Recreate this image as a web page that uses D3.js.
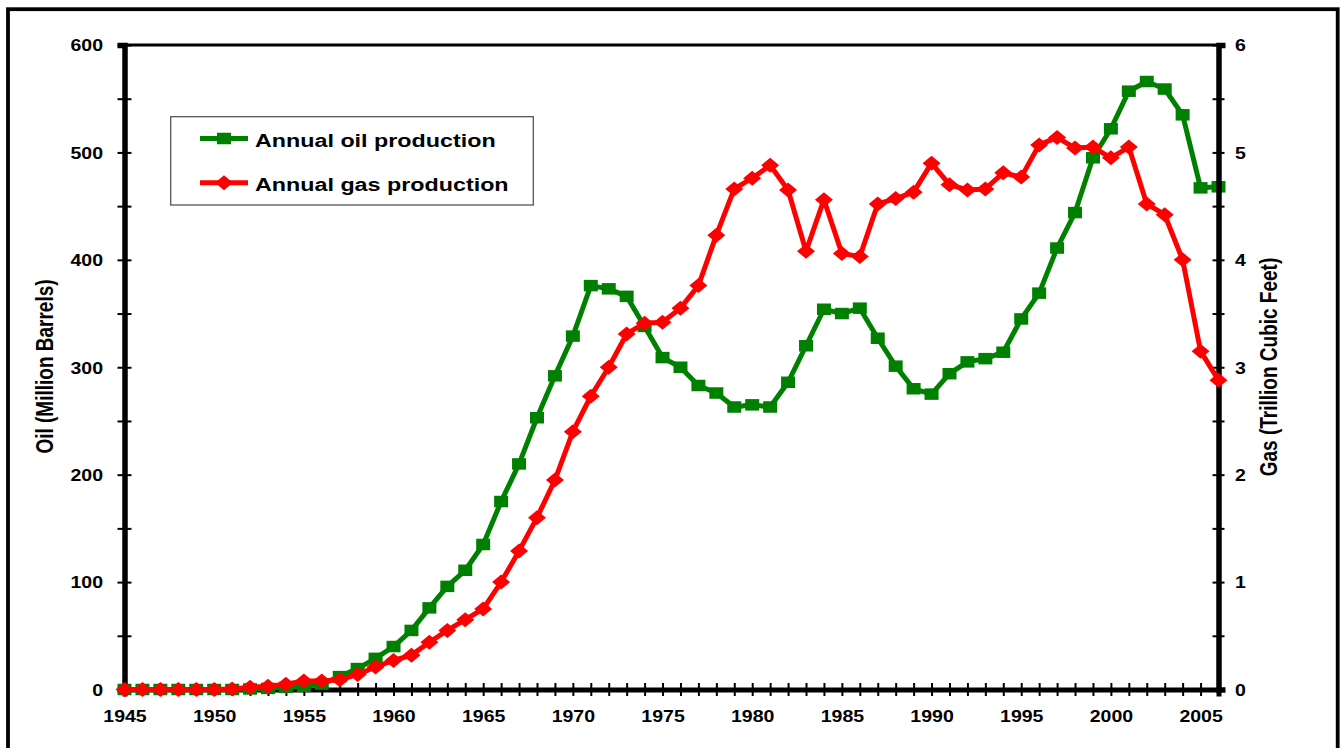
<!DOCTYPE html>
<html>
<head>
<meta charset="utf-8">
<script src="https://cdn.jsdelivr.net/npm/d3@7/dist/d3.min.js"></script>
<style>
  html, body { margin: 0; padding: 0; background: #fff; }
  svg { display: block; }
  text { font-family: "Liberation Sans", Arial, sans-serif; font-weight: bold; fill: #000; }
</style>
</head>
<body>
<svg id="chart" width="1340" height="748"></svg>
<script>
// Production years
const years = d3.range(1945, 2007);

// Annual oil production (million barrels)
const oil = [
  0, 0, 0, 0, 0, 0, 0, 0.5, 1, 2, 3, 5,
  12, 19.5, 29, 40, 55, 76, 96, 111, 135, 175,
  210, 253, 292, 329, 376, 373, 366, 338, 309, 300,
  283, 276, 263, 265, 263, 286, 320, 354, 350, 355,
  327, 301, 280, 275, 294, 305, 308, 314, 345, 369,
  411, 444, 495, 522, 557, 566, 559, 535, 467, 468
];

// Annual gas production (trillion cubic feet)
const gas = [
  0, 0, 0, 0, 0, 0, 0.005, 0.02, 0.03, 0.05, 0.08, 0.08,
  0.09, 0.14, 0.21, 0.27, 0.32, 0.44, 0.55, 0.65, 0.75, 1.0,
  1.29, 1.6, 1.95, 2.40, 2.73, 3.0, 3.31, 3.41, 3.42, 3.55,
  3.76, 4.23, 4.66, 4.76, 4.88, 4.65, 4.08, 4.56, 4.06, 4.03,
  4.52, 4.57, 4.63, 4.90, 4.70, 4.65, 4.66, 4.81, 4.77, 5.07,
  5.14, 5.04, 5.05, 4.95, 5.05, 4.52, 4.42, 4.00, 3.15, 2.88
];

// Tick values
const oilTicks = d3.range(0, 601, 50);
const gasTicks = d3.range(0, 6.01, 0.5);
const seriesNames = ["Annual oil production", "Annual gas production"];
const axisTitles = ["Oil (Million Barrels)", "Gas (Trillion Cubic Feet)"];

(function draw() {
  const SX = 1.22;            // horizontal widening of lettering
  const plotL = 124.5, plotR = 1218.5, plotT = 45, plotB = 689.5;
  const oilColor = "#008000", gasColor = "#ff0000";

  const svg = d3.select("#chart");

  // Outer frame
  svg.append("rect")
    .attr("x", 8).attr("y", 9.2).attr("width", 1329.7).attr("height", 800)
    .attr("fill", "#fff").attr("stroke", "#000").attr("stroke-width", 3.8);

  const x = d3.scaleLinear().domain([1945, 2006]).range([plotL, plotR]);
  const yOil = d3.scaleLinear().domain([0, 600]).range([plotB, plotT]);
  const yGas = d3.scaleLinear().domain([0, 6]).range([plotB, plotT]);

  // Plot area border (top edge shows)
  svg.append("line")
    .attr("x1", plotL).attr("x2", plotR).attr("y1", plotT).attr("y2", plotT)
    .attr("stroke", "#000").attr("stroke-width", 3);

  function crossTicks(g, vertical, half) {
    g.selectAll(".tick line")
      .attr("stroke", "#000").attr("stroke-width", 2)
      .each(function() {
        const l = d3.select(this);
        if (vertical) l.attr("x1", -half).attr("x2", half);
        else l.attr("y1", -half).attr("y2", half);
      });
  }

  // Left (oil) axis
  const gLeft = svg.append("g").attr("transform", `translate(${plotL},0)`)
    .call(d3.axisLeft(yOil).tickValues(oilTicks)
      .tickFormat(d => d % 100 === 0 ? d : "").tickSizeOuter(0).tickSize(7));
  gLeft.select(".domain").attr("stroke", "#000").attr("stroke-width", 5.5);
  crossTicks(gLeft, true, 7);
  gLeft.selectAll(".tick text")
    .attr("font-size", 16).attr("x", -21.5 / SX).attr("dy", "0.36em")
    .attr("transform", `scale(${SX},1)`).attr("fill", "#000");

  // Bottom (year) axis
  const gBottom = svg.append("g").attr("transform", `translate(0,${plotB})`)
    .call(d3.axisBottom(x).tickValues(years)
      .tickFormat(d => d % 5 === 0 ? d : "").tickSizeOuter(0).tickSize(7));
  gBottom.select(".domain").attr("stroke", "#000").attr("stroke-width", 5);
  crossTicks(gBottom, false, 6.5);
  gBottom.selectAll(".tick text")
    .attr("font-size", 16).attr("y", 33).attr("dy", 0)
    .attr("transform", `scale(${SX},1)`).attr("fill", "#000")
    .attr("x", 0);

  // Axis titles
  svg.append("text")
    .attr("transform", `translate(53.3,366.5) rotate(-90) scale(1,${SX})`)
    .attr("text-anchor", "middle").attr("font-size", 19)
    .text(axisTitles[0]);
  svg.append("text")
    .attr("transform", `translate(1276.5,367) rotate(-90) scale(1,${SX})`)
    .attr("text-anchor", "middle").attr("font-size", 19)
    .text(axisTitles[1]);

  const lineOil = d3.line().x((d, i) => x(years[i])).y(d => yOil(d));
  const lineGas = d3.line().x((d, i) => x(years[i])).y(d => yGas(d));

  // Oil series
  svg.append("path").datum(oil)
    .attr("d", lineOil).attr("fill", "none")
    .attr("stroke", oilColor).attr("stroke-width", 5).attr("stroke-linejoin", "round");
  const sqW = 14, sqH = 11.5;
  svg.append("g").selectAll("rect").data(oil).join("rect")
    .attr("x", (d, i) => x(years[i]) - sqW / 2)
    .attr("y", d => yOil(d) - sqH / 2)
    .attr("width", sqW).attr("height", sqH)
    .attr("fill", oilColor);

  // Right (gas) axis
  const gRight = svg.append("g").attr("transform", `translate(${plotR},0)`)
    .call(d3.axisRight(yGas).tickValues(gasTicks)
      .tickFormat(d => Number.isInteger(d) ? d : "").tickSizeOuter(0).tickSize(7));
  gRight.select(".domain").attr("stroke", "#000").attr("stroke-width", 5.5);
  crossTicks(gRight, true, 6);
  gRight.selectAll(".tick text")
    .attr("font-size", 16).attr("x", 16.5 / SX).attr("dy", "0.36em")
    .attr("transform", `scale(${SX},1)`).attr("fill", "#000");

  // Gas series
  svg.append("path").datum(gas)
    .attr("d", lineGas).attr("fill", "none")
    .attr("stroke", gasColor).attr("stroke-width", 5).attr("stroke-linejoin", "round");
  const dW = 9, dH = 7.5;
  const diamond = (cx, cy) => `M${cx},${cy - dH}L${cx + dW},${cy}L${cx},${cy + dH}L${cx - dW},${cy}Z`;
  svg.append("g").selectAll("path").data(gas).join("path")
    .attr("d", (d, i) => diamond(x(years[i]), yGas(d)))
    .attr("fill", gasColor);

  // Legend
  const lg = svg.append("g");
  lg.append("rect")
    .attr("x", 170.7).attr("y", 116.7).attr("width", 362.6).attr("height", 88.3)
    .attr("fill", "#fff").attr("stroke", "#555").attr("stroke-width", 1.3);
  const rows = [
    { name: seriesNames[0], color: oilColor, y: 138.5, marker: "square" },
    { name: seriesNames[1], color: gasColor, y: 182.7, marker: "diamond" }
  ];
  rows.forEach(r => {
    lg.append("line").attr("x1", 200).attr("x2", 248).attr("y1", r.y).attr("y2", r.y)
      .attr("stroke", r.color).attr("stroke-width", 5);
    if (r.marker === "square") {
      lg.append("rect").attr("x", 224 - sqW / 2).attr("y", r.y - sqH / 2)
        .attr("width", sqW).attr("height", sqH).attr("fill", r.color);
    } else {
      lg.append("path").attr("d", diamond(224, r.y)).attr("fill", r.color);
    }
    lg.append("text")
      .attr("transform", `translate(255,${r.y + 8}) scale(1.24,1)`)
      .attr("font-size", 18.8)
      .text(r.name);
  });
})();
</script>
</body>
</html>
